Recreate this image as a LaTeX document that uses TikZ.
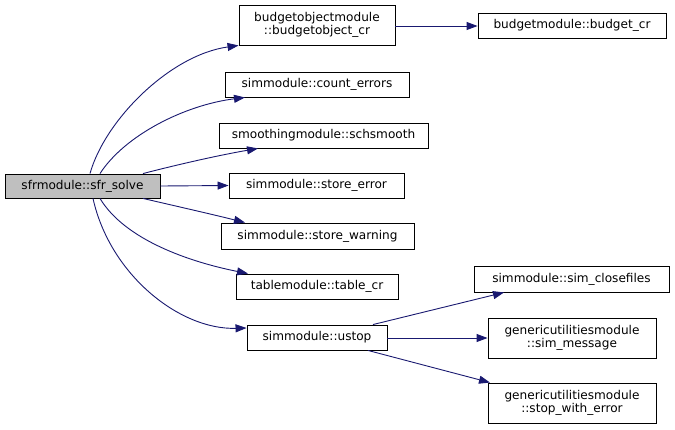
\documentclass[tikz,border=0pt]{standalone}
\usepackage{fontspec}
\setmainfont{DejaVu Sans}
\usetikzlibrary{arrows.meta}
\definecolor{edgeblue}{HTML}{191970}
\definecolor{rootgray}{HTML}{BFBFBF}
\tikzset{
  fn/.style={draw=black, line width=0.9pt, fill=white, inner sep=0pt, align=center,
    font=\fontsize{12.1}{13.5}\selectfont},
  root/.style={fn, fill=rootgray},
  call/.style={draw=edgeblue, line width=0.9pt, -{Triangle[length=11pt,width=8pt]}, color=edgeblue},
}
\newcommand{\fnbox}[7][fn]{%
  \node[#1, minimum width={#4-#3}, minimum height={#6-#5}] (#2) at ({(#3+#4)/2},{(#5+#6)/2}) {#7};}
\begin{document}
\begin{tikzpicture}[x=1pt,y=-1pt]
\useasboundingbox (0,0) rectangle (675,429);
\fnbox[root]{solve}{5}{160}{174}{198}{sfrmodule::sfr\_solve}
\fnbox{bobj}{239}{395}{5}{45}{budgetobjectmodule\\::budgetobject\_cr}
\fnbox{bcr}{478}{666}{13}{38}{budgetmodule::budget\_cr}
\fnbox{cnt}{225}{409}{72}{97}{simmodule::count\_errors}
\fnbox{sch}{219}{428}{123}{148}{smoothingmodule::schsmooth}
\fnbox{serr}{229}{404}{173}{198}{simmodule::store\_error}
\fnbox{swarn}{221}{414}{223}{249}{simmodule::store\_warning}
\fnbox{tcr}{236}{398}{274}{299}{tablemodule::table\_cr}
\fnbox{ustop}{247}{387}{325}{350}{simmodule::ustop}
\fnbox{close}{474}{669}{266}{292}{simmodule::sim\_closefiles}
\fnbox{msg}{488}{656}{318}{358}{genericutilitiesmodule\\::sim\_message}
\fnbox{swe}{488}{656}{383}{423}{genericutilitiesmodule\\::stop\_with\_error}

\draw[call] (solve.north -| 90,0) .. controls (105,120) and (170,55) .. (bobj.south west);
\draw[call] (solve.north -| 100,0) .. controls (125,135) and (185,105) .. (cnt.south west -| 245,0);
\draw[call] (solve.north -| 143,0) .. controls (180,164) and (220,155) .. (sch.south west -| 258,0);
\draw[call] (solve.east) -- (serr.west);
\draw[call] (solve.south -| 143,0) .. controls (180,207) and (215,215) .. (swarn.north west -| 245,0);
\draw[call] (solve.south -| 100,0) .. controls (125,240) and (190,262) .. (tcr.north west -| 248,0);
\draw[call] (solve.south -| 93,0) .. controls (110,275) and (180,330) .. (ustop.west |- 0,328);
\draw[call] (bobj.east |- 0,26) -- (bcr.west |- 0,26);
\draw[call] (ustop.north -| 373,0) -- (close.south -| 504,0);
\draw[call] (ustop.east |- 0,338) -- (msg.west |- 0,338);
\draw[call] (ustop.south -| 368,0) -- (swe.north -| 490,0);
\end{tikzpicture}
\end{document}
